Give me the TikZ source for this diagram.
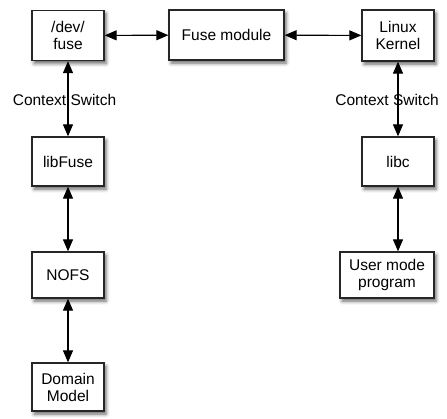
\documentclass[tikz,border=0pt]{standalone}
\usepackage{fontspec}
\setmainfont{Liberation Sans}
\usetikzlibrary{arrows.meta,shadows.blur}
\begin{document}
\begin{tikzpicture}[x=1pt,y=-1pt,
  box/.style={draw=black!85,line width=1.3pt,fill=white,rectangle,align=center,
    inner sep=0pt,font=\fontsize{15.5}{17}\selectfont,
    blur shadow={shadow xshift=2pt,shadow yshift=-3pt,shadow blur radius=3.5pt,shadow opacity=60}},
  conn/.style={line width=1.1pt,{Triangle[length=12pt,width=10pt]}-{Triangle[length=12pt,width=10pt]}},
  lbl/.style={font=\fontsize{15.5}{17}\selectfont,inner sep=0pt}]
\useasboundingbox (0,0) rectangle (447,418);
\node[box,minimum width=72pt,minimum height=50pt] (dev) at (68,35.5) {/dev/\\fuse};
\node[box,minimum width=115pt,minimum height=50pt] (fm) at (226.5,35) {Fuse module};
\node[box,minimum width=72pt,minimum height=51pt] (lk) at (398,35.5) {Linux\\Kernel};
\node[box,minimum width=72pt,minimum height=49pt] (lf) at (68,161.5) {libFuse};
\node[box,minimum width=72pt,minimum height=49pt] (lc) at (398,161.5) {libc};
\node[box,minimum width=72pt,minimum height=46pt] (nofs) at (68,275) {NOFS};
\node[box,minimum width=94pt,minimum height=46pt] (um) at (387,275) {User mode\\program};
\node[box,minimum width=72pt,minimum height=48pt] (dm) at (68,387) {Domain\\Model};
\node[lbl] (cs1) at (64.5,100) {Context Switch};
\node[lbl] (cs2) at (387,100) {Context Switch};
\draw[conn] (dev) -- (fm);
\draw[conn] (fm) -- (lk);
\draw[conn] (dev.south) -- (lf.north);
\draw[conn] (lk.south) -- (lc.north);
\draw[conn] (lf) -- (nofs);
\draw[conn] (lc.south) -- (lc.south |- um.north);
\draw[conn] (nofs) -- (dm);
\end{tikzpicture}
\end{document}
